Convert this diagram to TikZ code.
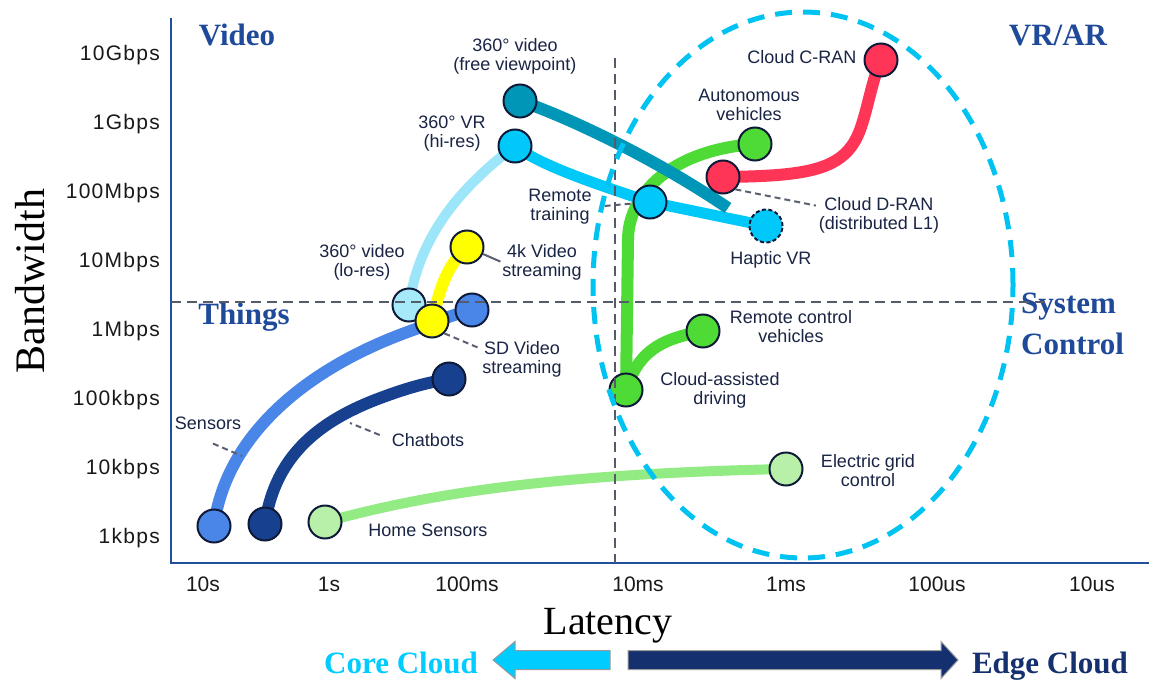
\documentclass[tikz,border=0pt]{standalone}
\usepackage{fontspec}
\setmainfont{Liberation Serif}
\newfontfamily\arial{Liberation Sans}
\newfontfamily\tickfont[LetterSpace=6]{Liberation Sans}

\definecolor{axisblue}{HTML}{1F4E9A}
\definecolor{headblue}{HTML}{1F4A99}
\definecolor{rim}{HTML}{0F1A38}
\definecolor{txt}{HTML}{1A2444}
\definecolor{sensblue}{HTML}{4A86E8}
\definecolor{chatblue}{HTML}{17418F}
\definecolor{homeline}{HTML}{93EB84}
\definecolor{homefill}{HTML}{B8F0AA}
\definecolor{lorline}{HTML}{9DE6FA}
\definecolor{lorfill}{HTML}{A6E9F9}
\definecolor{vidyellow}{HTML}{FFFF00}
\definecolor{teal360}{HTML}{0096B8}
\definecolor{cyanvr}{HTML}{00C8F8}
\definecolor{autogreen}{HTML}{4FDB36}
\definecolor{ranred}{HTML}{FF3558}
\definecolor{ringcyan}{HTML}{00C3F2}
\definecolor{quadgray}{HTML}{555B68}
\definecolor{leadgray}{HTML}{5A6070}
\definecolor{corecyan}{HTML}{00CCFF}
\definecolor{edgenavy}{HTML}{14306E}

\pgfdeclarelayer{back}
\pgfdeclarelayer{front}
\pgfsetlayers{back,main,front}

\begin{document}
\begin{tikzpicture}[x=1pt,y=-1pt,
  dot/.style={circle, draw=rim, line width=2pt, minimum size=33pt, inner sep=0pt},
  band/.style={line width=12pt},
  lbl/.style={font={\arial\fontsize{18}{19}\selectfont}, text=txt, align=center, inner sep=1pt},
  ytick/.style={font={\tickfont\fontsize{21}{21}\selectfont}, text=black!90, anchor=base east, inner sep=0pt},
  xtick/.style={font={\arial\fontsize{21}{21}\selectfont}, text=black!90, anchor=base, inner sep=0pt},
  corner/.style={font={\bfseries\fontsize{31}{31}\selectfont}, text=headblue, inner sep=0pt},
  leader/.style={draw=leadgray, line width=2pt, dash pattern=on 6pt off 4pt},
  quad/.style={draw=quadgray, line width=2.5pt, dash pattern=on 10pt off 6pt},
  bigarrow/.style={draw=black!40, line width=1pt}]

\useasboundingbox (0,0) rectangle (1149,680);

% ---------- axes ----------
\draw[axisblue, line width=2.5pt] (171,18) -- (171,563) -- (1149,563);

\foreach \lab/\yy in {10Gbps/60, 1Gbps/129, 100Mbps/198, 10Mbps/267, 1Mbps/336, 100kbps/405, 10kbps/474, 1kbps/543}
  \node[ytick] at (160,\yy) {\lab};

\foreach \lab/\xx in {10s/203, 1s/329, 100ms/467, 10ms/638, 1ms/786, 100us/937, 10us/1092}
  \node[xtick] at (\xx,591) {\lab};

\node[font={\fontsize{42}{42}\selectfont}, rotate=90, inner sep=0pt] (bw) at (30,281) {Bandwidth};
\node[font={\fontsize{40}{40}\selectfont}, anchor=base, inner sep=0pt] (lat) at (608,634) {Latency};

% ---------- quadrant titles ----------
\node[corner, anchor=base] (qv) at (237,45) {Video};
\node[corner, anchor=base] (qvr) at (1058,45) {VR/AR};
\node[corner, anchor=base] (qt) at (244,324) {Things};
\node[corner, anchor=base west] (qs1) at (1021,313) {System};
\node[corner, anchor=base west] (qs2) at (1021,354) {Control};

% ---------- use-case dots ----------
\node[dot, fill=sensblue] (sn) at (214,526) {};
\node[dot, fill=chatblue] (ch0) at (265,524) {};
\node[dot, fill=homefill] (hs) at (325,522) {};
\node[dot, fill=chatblue] (ch1) at (449,379) {};
\node[dot, fill=lorfill] (lr) at (409,305) {};
\node[dot, fill=sensblue] (s1m) at (472,310) {};
\node[dot, fill=vidyellow] (sd) at (432,321) {};
\node[dot, fill=vidyellow] (k4) at (467,247) {};
\node[dot, fill=teal360] (fv) at (520,101) {};
\node[dot, fill=cyanvr] (hr) at (515,146) {};
\node[dot, fill=cyanvr] (rt) at (650,202) {};
\node[dot, fill=cyanvr, dash pattern=on 4pt off 2.5pt] (hap) at (766,226) {};
\node[dot, fill=autogreen] (av) at (755,144) {};
\node[dot, fill=ranred] (drn) at (723,177) {};
\node[dot, fill=ranred] (crn) at (881,60) {};
\node[dot, fill=autogreen] (rc) at (703,331) {};
\node[dot, fill=autogreen] (cad) at (626,390) {};
\node[dot, fill=homefill] (grid) at (786,469) {};

% ---------- labels ----------
\node[lbl] (fvl) at (515,56) {360° video\\(free viewpoint)};
\node[lbl] (hrl) at (452,134) {360° VR\\(hi-res)};
\node[lbl] (rtl) at (560,207) {Remote\\training};
\node[lbl] (lrl) at (362,262) {360° video\\(lo-res)};
\node[lbl] (k4l) at (542,262) {4k Video\\streaming};
\node[lbl] (sdl) at (522,359) {SD Video\\streaming};
\node[lbl] (avl) at (749,105) {Autonomous\\vehicles};
\node[lbl] (crnl) at (802,57) {Cloud C-RAN};
\node[lbl] (drnl) at (879,215) {Cloud D-RAN\\(distributed L1)};
\node[lbl] (hapl) at (771,260) {Haptic VR};
\node[lbl] (rcl) at (791,327) {Remote control\\vehicles};
\node[lbl] (cadl) at (720,390) {Cloud-assisted\\driving};
\node[lbl] (gridl) at (868,471) {Electric grid\\control};
\node[lbl] (hsl) at (428,530) {Home Sensors};
\node[lbl] (snl) at (208,423) {Sensors};
\node[lbl] (chl) at (428,440) {Chatbots};

\coordinate (snc) at (242,456);
\coordinate (chc) at (350,423);
\coordinate (tend) at (728,208);

% ---------- white page and trajectories (behind the dots) ----------
\begin{pgfonlayer}{back}
  \fill[white] (0,0) rectangle (1149,680);
  \draw[band, homeline, line width=10pt] (hs.center) .. controls (420,496) and (540,474) .. (grid.center);
  \draw[band, sensblue] (sn.center) .. controls (225,440) and (300,370) .. (413,330)
        .. controls (440,320) and (455,314) .. (s1m.center);
  \draw[band, chatblue] (ch0.center) .. controls (275,455) and (320,420) .. (383,397)
        .. controls (410,387) and (430,382) .. (ch1.center);
  \draw[band, lorline, line width=10pt] (lr.center) .. controls (418,245) and (450,195) .. (hr.center);
  \draw[band, vidyellow] (sd.center) .. controls (440,290) and (445,268) .. (k4.center);
  \draw[band, autogreen] (cad.center) -- (628,240) .. controls (628,195) and (670,150) .. (av.center);
  \draw[band, autogreen] (cad.center) .. controls (640,345) and (670,338) .. (rc.center);
  \draw[band, ranred] (drn.center) .. controls (810,176) and (845,170) .. (860,130)
        .. controls (868,108) and (872,80) .. (crn.center);
  \draw[band, cyanvr, line width=11pt] (hr.center) .. controls (540,165) and (590,182) .. (rt.center) -- (hap.center);
  \draw[band, teal360] (fv.center) .. controls (560,114) and (650,155) .. (tend);
\end{pgfonlayer}

% ---------- leader lines ----------
\draw[leader, shorten <=12pt] (rtl.east) -- (rt);
\draw[leader, shorten >=2pt] (drn.south east) -- ([yshift=9pt]drnl.west);
\draw[draw=leadgray, line width=2pt, shorten >=1pt] (k4) -- (k4l.west);
\draw[leader, shorten >=3pt] (sd.south east) -- ([yshift=10pt]sdl.west);
\draw[leader] ([shift={(5,13)}]snl.south) -- (snc);
\draw[leader] ([shift={(-11,-5)}]chl.west) -- (chc);

% ---------- quadrant split and edge region ----------
\begin{pgfonlayer}{front}
  \draw[quad] (615,58) -- (615,563);
  \draw[quad] (171,302) -- (1046,302);
  \draw[ringcyan, line width=5pt, dash pattern=on 17pt off 11pt]
        (803,285) ellipse [x radius=210pt, y radius=273pt];
\end{pgfonlayer}

% ---------- core / edge arrows ----------
\filldraw[bigarrow, fill=corecyan] (610,650.5) -- (515,650.5) -- (515,641.5) -- (493,660)
  -- (515,678.5) -- (515,669.5) -- (610,669.5) -- cycle;
\filldraw[bigarrow, fill=edgenavy] (628,650.5) -- (941,650.5) -- (941,641.5) -- (958,660)
  -- (941,678.5) -- (941,669.5) -- (628,669.5) -- cycle;
\node[font={\bfseries\fontsize{31}{31}\selectfont}, text=corecyan, anchor=base, inner sep=0pt] (cc) at (401,673) {Core Cloud};
\node[font={\bfseries\fontsize{31}{31}\selectfont}, text=edgenavy, anchor=base, inner sep=0pt] (ec) at (1050,673) {Edge Cloud};

\end{tikzpicture}
\end{document}
